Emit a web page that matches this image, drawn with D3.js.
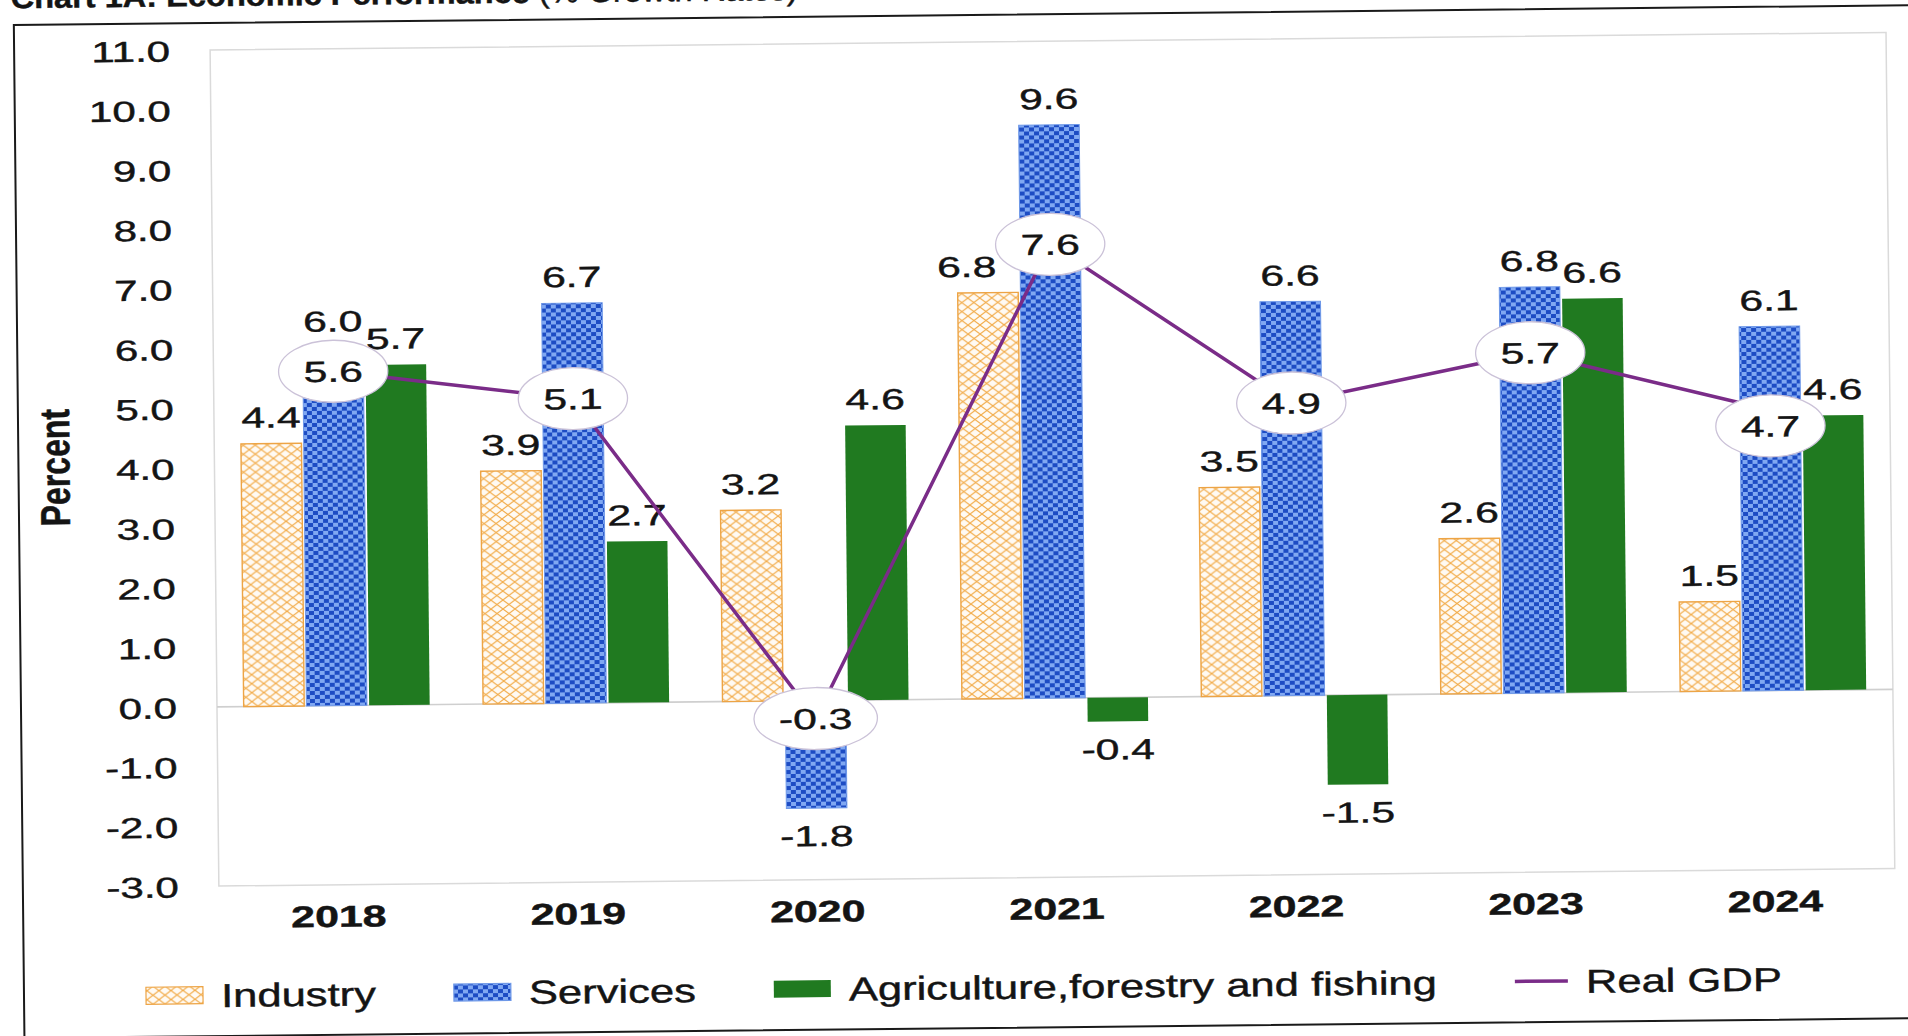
<!DOCTYPE html>
<html><head><meta charset="utf-8">
<script src="https://cdn.jsdelivr.net/npm/d3@7"></script>
<style>
body{margin:0;background:#fff}
svg{display:block}
text{font-family:"Liberation Sans",Arial,sans-serif;fill:#141414;stroke:#141414;stroke-width:0.45}
</style>
</head><body>
<svg id="chart" width="1908" height="1036"></svg>
<script>
// ---------------- data ----------------
const years = ["2018","2019","2020","2021","2022","2023","2024"];
const seriesNames = ["Industry","Services","Agriculture,forestry and fishing"];
const industry    = [4.4, 3.9, 3.2, 6.8, 3.5, 2.6, 1.5];
const services    = [6.0, 6.7, -1.8, 9.6, 6.6, 6.8, 6.1];
const agriculture = [5.7, 2.7, 4.6, -0.4, -1.5, 6.6, 4.6];
const realGDP     = [5.6, 5.1, -0.3, 7.6, 4.9, 5.7, 4.7];
const gdpName = "Real GDP";
const yTickValues = [11,10,9,8,7,6,5,4,3,2,1,0,-1,-2,-3];
const axisTitle = "Percent";
const titleBold = "Chart 1A: Economic Performance";
const titleRegular = " (% Growth Rates)";

// ---------------- setup ----------------
const svg = d3.select("#chart");
const defs = svg.append("defs");

const pInd = defs.append("pattern").attr("id","pInd").attr("patternUnits","userSpaceOnUse")
  .attr("width",12).attr("height",9);
pInd.append("rect").attr("width",12).attr("height",9).attr("fill","#fffaf3");
pInd.append("path").attr("d","M0,0L12,9M0,9L12,0").attr("stroke","#f2ab48").attr("stroke-width",1.1).attr("fill","none");

const pSvc = defs.append("pattern").attr("id","pSvc").attr("patternUnits","userSpaceOnUse")
  .attr("width",10).attr("height",8);
pSvc.append("rect").attr("width",10).attr("height",8).attr("fill","#1d4cc4");
pSvc.append("rect").attr("width",5).attr("height",4).attr("fill","#80a8f2");
pSvc.append("rect").attr("x",5).attr("y",4).attr("width",5).attr("height",4).attr("fill","#80a8f2");

const fills = {"Industry":"url(#pInd)","Services":"url(#pSvc)","Agriculture,forestry and fishing":"#207a20"};
const strokes = {"Industry":"#eda445","Services":"#6e98e8","Agriculture,forestry and fishing":"none"};
const gdpColor = "#7a2c88";

const root = svg.append("g").attr("transform","rotate(-0.6,219,708)");

function sText(g, x, y, str, o){
  const t = g.append("text")
    .attr("transform", `translate(${x},${y}) scale(${o.sx},1)` + (o.rot ? ` rotate(${o.rot})` : ""))
    .attr("text-anchor", o.anchor || "middle")
    .attr("font-size", o.size)
    .attr("font-weight", o.weight || "normal")
    .text(str);
  return t;
}
const fmt = v => v.toFixed(1);

// title
const title = root.append("text").attr("x",18).attr("y",6)
  .attr("font-family","'Liberation Serif','Times New Roman',serif").attr("font-size",30)
  .attr("textLength",787).attr("lengthAdjust","spacingAndGlyphs");
title.append("tspan").attr("font-weight","bold").text(titleBold);
title.append("tspan").text(titleRegular);

// outer frame
root.append("rect").attr("x",21).attr("y",23).attr("width",2000).attr("height",1013)
  .attr("fill","none").attr("stroke","#1a1a1a").attr("stroke-width",2);

// scales
const plotL = 217, plotR = 1893, plotT = 50, plotB = 886;
const y = d3.scaleLinear().domain([-3, 11]).range([plotB, plotT]);
const x0 = d3.scaleBand().domain(years).range([plotL, plotR]).paddingInner(0.223).paddingOuter(0.1115);
const x1 = d3.scaleBand().domain(seriesNames).range([0, x0.bandwidth()]).paddingInner(0.035);

// plot frame + zero line
root.append("rect").attr("x",plotL).attr("y",plotT).attr("width",plotR-plotL).attr("height",plotB-plotT)
  .attr("fill","none").attr("stroke","#dadada").attr("stroke-width",1.5);
root.append("line").attr("x1",plotL).attr("x2",plotR).attr("y1",y(0)).attr("y2",y(0))
  .attr("stroke","#cfcfcf").attr("stroke-width",1.6);

// bars
const seriesData = {"Industry":industry,"Services":services,"Agriculture,forestry and fishing":agriculture};
const barData = [];
years.forEach((yr,i)=>seriesNames.forEach(s=>barData.push({year:yr, s, v:seriesData[s][i]})));

const gBars = root.append("g");
gBars.selectAll("rect").data(barData).join("rect")
  .attr("x", d => x0(d.year) + x1(d.s))
  .attr("width", x1.bandwidth())
  .attr("y", d => Math.min(y(d.v), y(0)))
  .attr("height", d => Math.abs(y(d.v) - y(0)))
  .attr("fill", d => fills[d.s])
  .attr("stroke", d => strokes[d.s])
  .attr("stroke-width", d => d.s === "Industry" ? 1.4 : 1);

// bar labels (label nudges as placed in the source chart)
const labelNudgeX = {"Industry|2021": -21};
const gLab = root.append("g");
barData.forEach(d=>{
  const cx = x0(d.year) + x1(d.s) + x1.bandwidth()/2 + (labelNudgeX[d.s+"|"+d.year] || 0);
  const ty = d.v >= 0 ? y(d.v) - 16 : y(d.v) + 38;
  sText(gLab, cx, ty, fmt(d.v), {size:29, sx:1.47});
});

// GDP line
const gx = yr => x0(yr) + x0.bandwidth()/2;
const gdpPts = years.map((yr,i)=>({year:yr, v:realGDP[i]}));
root.append("path").datum(gdpPts)
  .attr("d", d3.line().x(d=>gx(d.year)).y(d=>y(d.v)))
  .attr("fill","none").attr("stroke",gdpColor).attr("stroke-width",3.5);

// bubbles (data labels of the GDP line; one was dragged down in the source)
const bubbleNudgeY = {"2024": 16};
const gB = root.append("g");
gdpPts.forEach(d=>{
  const g = gB.append("g");
  const cy = y(d.v) + (bubbleNudgeY[d.year] || 0);
  const el = g.append("ellipse").attr("cx",gx(d.year)).attr("cy",cy)
    .attr("fill","#fff").attr("stroke","#cbc2d8").attr("stroke-width",1.3);
  const t = sText(g, gx(d.year), cy+10.5, fmt(d.v), {size:29, sx:1.47});
  const w = t.node().getComputedTextLength()*1.47;
  el.attr("rx", w/2 + 25).attr("ry", 31);
});

// y axis
const yAxis = root.append("g").attr("transform","translate(177,0)")
  .call(d3.axisLeft(y).tickValues(yTickValues).tickFormat(fmt).tickSize(0).tickPadding(0));
yAxis.select(".domain").remove();
yAxis.selectAll("text").attr("x",null).attr("dy",null)
  .attr("transform","translate(0,10.5) scale(1.45,1)")
  .attr("font-size",29).attr("font-family","'Liberation Sans',Arial,sans-serif")
  .attr("fill","#141414").attr("stroke","#141414").attr("stroke-width",0.45);

// x axis
const xAxis = root.append("g").attr("transform",`translate(0,${plotB})`)
  .call(d3.axisBottom(x0).tickSize(0).tickPadding(0));
xAxis.select(".domain").remove();
xAxis.selectAll("text").attr("y",null).attr("dy",null)
  .attr("transform","translate(0,42) scale(1.43,1)")
  .attr("font-size",30).attr("font-weight","bold")
  .attr("font-family","'Liberation Sans',Arial,sans-serif")
  .attr("fill","#141414").attr("stroke","#141414").attr("stroke-width",0.45);

// axis title
sText(root, 72, 466, axisTitle, {size:32, sx:1.3, rot:-90, weight:"bold"});

// legend
const gL = root.append("g");
const legItems = seriesNames.map(s=>({name:s, type:"bar"})).concat([{name:gdpName, type:"line"}]);
let lx = 143;
const legY = 995, legBase = 1007, swW = 57, swH = 17, lsx = 1.32;
legItems.forEach(it=>{
  if(it.type === "bar"){
    gL.append("rect").attr("x",lx).attr("y",legY - swH/2).attr("width",swW).attr("height",swH)
      .attr("fill",fills[it.name]).attr("stroke",strokes[it.name]).attr("stroke-width",1.2);
  } else {
    gL.append("line").attr("x1",lx).attr("x2",lx+53).attr("y1",legY).attr("y2",legY)
      .attr("stroke",gdpColor).attr("stroke-width",3.5);
  }
  const tx = lx + (it.type === "bar" ? swW : 53) + 18;
  const t = sText(gL, tx, legBase, it.name, {size:33, sx:lsx, anchor:"start"});
  lx = tx + t.node().getComputedTextLength()*lsx + 78;
});
</script>
</body></html>
